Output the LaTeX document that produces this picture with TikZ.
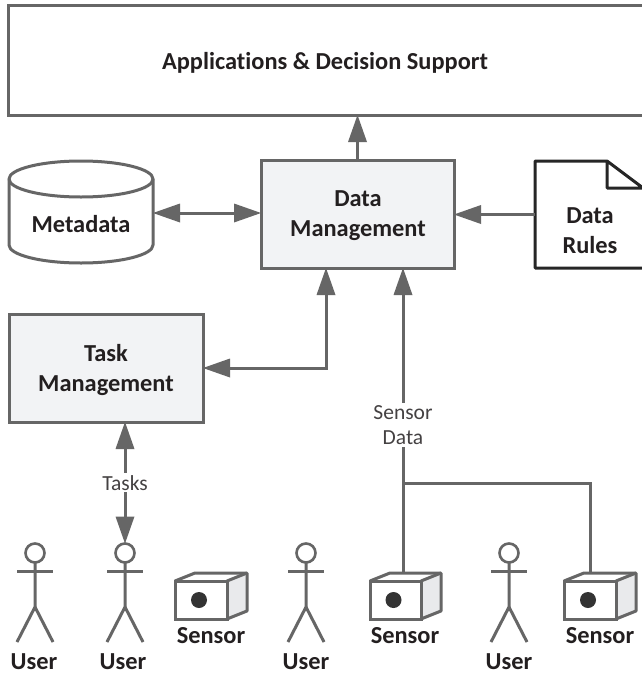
\documentclass[tikz,border=0pt]{standalone}
\usepackage{fontspec}
\setmainfont{Carlito}[Ligatures=NoCommon]
\usetikzlibrary{arrows.meta}
\definecolor{ln}{HTML}{666666}
\definecolor{boxfill}{HTML}{F2F3F5}
\definecolor{sidefill}{HTML}{E9EAEC}
\definecolor{txt}{HTML}{231F20}
\tikzset{
  x=1pt,y=-1pt,
  conn/.style={draw=ln,line width=3pt},
  tip/.tip={Triangle[length=27pt,width=19pt,color=ln,fill=ln,line width=0pt]},
  arr/.style={conn,-{tip}},
  darr/.style={conn,{tip}-{tip}},
  boxn/.style={draw=ln,line width=3pt,fill=boxfill,inner sep=0pt,outer sep=0pt,anchor=north west},
  lbl/.style={font=\fontsize{24.4}{30}\selectfont\bfseries,text=txt,align=center,inner sep=0pt},
  clbl/.style={font=\fontsize{21.5}{25}\selectfont,text=txt!85!white,align=center,fill=white,inner sep=2pt},
  part/.style={draw=ln,line width=3pt,line join=round},
  sensorbody/.style={minimum height=38pt,inner sep=0pt,outer sep=0pt,draw=ln,line width=3pt,fill=white,anchor=north west},
  personhead/.style={circle,minimum size=19pt,inner sep=0pt,outer sep=0pt,draw=ln,line width=2.6pt,fill=white},
  area/.style={inner sep=0pt,outer sep=0pt},
}
\newcommand{\sensorshape}[3]{% name, left x, width
  \fill[sidefill] (#2+#3,581) -- (#2+#3+20,573) -- (#2+#3+20,611) -- (#2+#3,619) -- cycle;
  \draw[part] (#2,581) -- (#2+20,573) -- (#2+#3+20,573) -- (#2+#3+20,611) -- (#2+#3,619);
  \draw[part] (#2+#3,581) -- (#2+#3+20,573);
  \node[sensorbody,minimum width=#3pt] (#1) at (#2,581) {};
  \fill[black!80] (#2+#3/2-2,600) circle (8);
}
\newcommand{\persondraw}[2]{% name, x
  \node[personhead] (#1) at (#2,553) {};
  \draw[part] (#1.south) -- (#2,607) -- (#2-18,642);
  \draw[part] (#2,607) -- (#2+18,642);
  \draw[part] (#2-18,571) -- (#2+18,571);
}
\begin{document}
\begin{tikzpicture}
\useasboundingbox (0,0) rectangle (641,675);
\fill[white] (0,0) rectangle (641,675);
% top box
\node[boxn,fill=white,minimum width=640pt,minimum height=110pt] (app) at (8,5) {};
\node[lbl] (applbl) at (325,63) {Applications \& Decision Support};
% data management
\node[boxn,minimum width=193pt,minimum height=108pt] (dm) at (261,160) {};
\node[lbl] (dmlbl) at (358,216) {Data\\Management};
% task management
\node[boxn,minimum width=194pt,minimum height=108pt] (tm) at (9,314) {};
\node[lbl] (tmlbl) at (106,370) {Task\\Management};
% metadata cylinder
\draw[part,fill=white] (9,179) arc[start angle=180,end angle=360,x radius=72,y radius=18] -- (153,245)
  arc[start angle=0,end angle=180,x radius=72,y radius=18] -- cycle;
\draw[part] (9,179) arc[start angle=180,end angle=0,x radius=72,y radius=18];
\node[area,minimum width=144pt,minimum height=104pt] (meta) at (81,213) {};
\node[lbl] (metalbl) at (81,224) {Metadata};
% document
\draw[draw=black!85,line width=3pt,fill=white,line join=round] (643,268) -- (535,268) -- (535,161) -- (607,161) -- (643,188) -- (607,188) -- (607,161);
\node[area,minimum width=107pt,minimum height=107pt] (doc) at (588.5,214.5) {};
\node[lbl] (rules) at (590,231) {Data\\Rules};
% sensors
\sensorshape{s1}{175}{52}
\sensorshape{s2}{370}{51}
\sensorshape{s3}{564}{52}
\node[lbl] (s1l) at (211,636) {Sensor};
\node[lbl] (s2l) at (405,636) {Sensor};
\node[lbl] (s3l) at (600,636) {Sensor};
\coordinate (s2t) at (403,573);
\coordinate (s3t) at (590,573);
% users
\persondraw{u1}{35}
\persondraw{u2}{125}
\persondraw{u3}{306}
\persondraw{u4}{509}
\node[lbl] (u1l) at (34,662) {User};
\node[lbl] (u2l) at (123,662) {User};
\node[lbl] (u3l) at (306,662) {User};
\node[lbl] (u4l) at (509,662) {User};
% connectors
\draw[arr] (dm.north) -- (dm.north |- app.south);
\draw[darr] (meta.east) -- (meta.east -| dm.west);
\draw[arr] (doc.west) -- (doc.west -| dm.east);
\coordinate (dmb1) at ([xshift=-31.5pt]dm.south);
\draw[darr] (tm.east) -| (dmb1);
\draw[darr] (u2.north |- tm.south) -- node[clbl,pos=0.5] (tasks) {Tasks} (u2.north);
\draw[arr] (s2t) -- (s2t |- dm.south);
\node[clbl] (sdata) at (403,425) {Sensor\\Data};
\coordinate (jn) at (403,483);
\draw[conn] (jn) -| (s3t);
\end{tikzpicture}
\end{document}
